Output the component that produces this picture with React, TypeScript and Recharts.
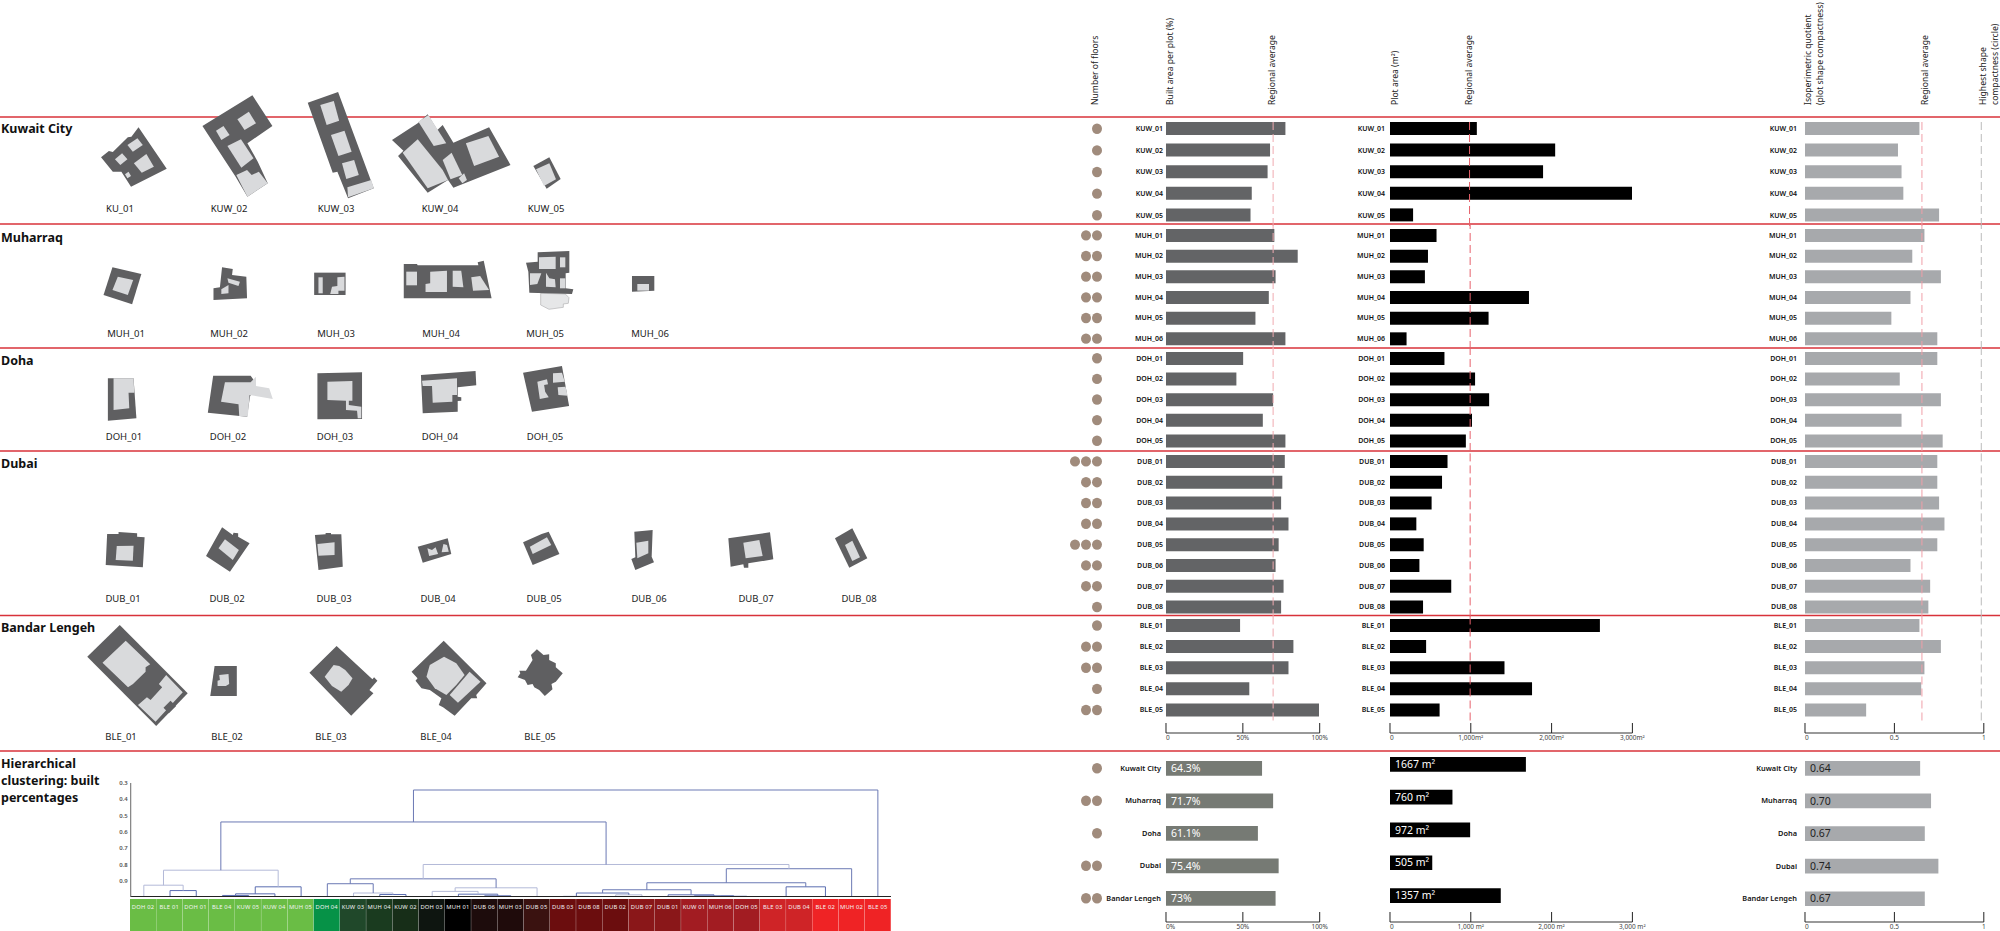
import {
  Bar,
  BarChart,
  Cell,
  LabelList,
  Line,
  LineChart,
  ReferenceLine,
  Scatter,
  ScatterChart,
  XAxis,
  YAxis,
} from "recharts";

const FONT = "'Noto Sans', sans-serif";

// rows per city
const kuwLabels = ["KUW_01", "KUW_02", "KUW_03", "KUW_04", "KUW_05"];
const muhLabels = ["MUH_01", "MUH_02", "MUH_03", "MUH_04", "MUH_05", "MUH_06"];
const dohLabels = ["DOH_01", "DOH_02", "DOH_03", "DOH_04", "DOH_05"];
const dubLabels = ["DUB_01", "DUB_02", "DUB_03", "DUB_04", "DUB_05", "DUB_06", "DUB_07", "DUB_08"];
const bleLabels = ["BLE_01", "BLE_02", "BLE_03", "BLE_04", "BLE_05"];

const kuwFloors = [1, 1, 1, 1, 1];
const muhFloors = [2, 2, 2, 2, 2, 2];
const dohFloors = [1, 1, 1, 1, 1];
const dubFloors = [3, 2, 2, 2, 3, 2, 2, 1];
const bleFloors = [1, 2, 2, 1, 2];

const kuwBuilt = [77.7, 67.7, 66.1, 55.8, 55];
const muhBuilt = [70.5, 85.7, 71.3, 66.9, 58.2, 77.7];
const dohBuilt = [50.2, 45.8, 69.7, 63, 77.7];
const dubBuilt = [77.3, 75.7, 74.9, 79.7, 73.3, 71.3, 76.5, 74.9];
const bleBuilt = [48.2, 82.9, 79.7, 54.2, 100];

const kuwPlot = [1083, 2060, 1909, 3023, 288];
const muhPlot = [576, 470, 432, 1720, 1220, 205];
const dohPlot = [674, 1053, 1227, 1015, 939];
const dubPlot = [712, 644, 515, 326, 417, 364, 758, 409];
const blePlot = [2598, 447, 1417, 1758, 614];

const kuwIso = [0.64, 0.52, 0.54, 0.55, 0.75];
const muhIso = [0.668, 0.6, 0.76, 0.59, 0.483, 0.74];
const dohIso = [0.74, 0.53, 0.76, 0.54, 0.77];
const dubIso = [0.74, 0.74, 0.75, 0.78, 0.74, 0.59, 0.7, 0.69];
const bleIso = [0.64, 0.76, 0.668, 0.65, 0.342];

// regional summary
const cities = ["Kuwait City", "Muharraq", "Doha", "Dubai", "Bandar Lengeh"];
const cityFloors = [1, 2, 1, 2, 2];
const cityBuilt = [62.5, 69.7, 59.8, 73.3, 71.3];
const cityBuiltText = ["64.3%", "71.7%", "61.1%", "75.4%", "73%"];
const cityPlot = [1682, 773, 992, 523, 1371];
const cityPlotText = ["1667 m²", "760 m²", "972 m²", "505 m²", "1357 m²"];
const cityIso = [0.644, 0.705, 0.67, 0.746, 0.67];
const cityIsoText = ["0.64", "0.70", "0.67", "0.74", "0.67"];

// regional averages
const avgBuilt = 69.7;
const avgPlot = 992;
const avgIso = 0.654;
const maxCompact = 0.986;

// dendrogram leaves, left to right
const leaves = [
  "DOH 02", "BLE 01", "DOH 01", "BLE 04", "KUW 05", "KUW 04", "MUH 05", "DOH 04", "KUW 03", "MUH 04",
  "KUW 02", "DOH 03", "MUH 01", "DUB 06", "MUH 03", "DUB 05", "DUB 03", "DUB 08", "DUB 02", "DUB 07",
  "DUB 01", "KUW 01", "MUH 06", "DOH 05", "BLE 03", "DUB 04", "BLE 02", "MUH 02", "BLE 05",
];
const leafColors = [
  "#6abd45", "#6abd45", "#6abd45", "#6abd45", "#6abd45", "#6abd45", "#6abd45", "#069247", "#20482a", "#1a3b1f",
  "#172e18", "#0e1510", "#000000", "#1d0c0c", "#1f0b0b", "#3a1210", "#6b0d0e", "#6b0d0e", "#6b0d0e", "#8a1719",
  "#8a1719", "#a21c22", "#a21c22", "#a21c22", "#cf2427", "#cf2427", "#ef2325", "#ef2325", "#ef2325",
];
// id, left child, right child, height
const merges: [string, string, string, number][] = [
  ["d", "BLE 01", "DOH 01", 0.96],
  ["c", "DOH 02", "d", 0.927],
  ["g", "BLE 04", "KUW 05", 0.99],
  ["f", "g", "KUW 04", 0.98],
  ["e", "f", "MUH 05", 0.937],
  ["b", "c", "e", 0.835],
  ["l", "MUH 04", "KUW 02", 0.984],
  ["k", "KUW 03", "l", 0.975],
  ["j", "DOH 04", "k", 0.918],
  ["p", "DUB 06", "MUH 03", 0.992],
  ["o", "MUH 01", "p", 0.982],
  ["n", "DOH 03", "o", 0.965],
  ["m", "n", "DUB 05", 0.943],
  ["i", "j", "m", 0.888],
  ["t1", "DUB 03", "DUB 08", 0.995],
  ["t2", "DUB 02", "DUB 07", 0.986],
  ["t", "t1", "t2", 0.975],
  ["v1", "MUH 06", "DOH 05", 0.995],
  ["v", "KUW 01", "v1", 0.992],
  ["u", "DUB 01", "v", 0.986],
  ["s", "t", "u", 0.955],
  ["w1", "BLE 03", "DUB 04", 0.997],
  ["w", "w1", "BLE 02", 0.937],
  ["r", "s", "w", 0.912],
  ["q", "r", "MUH 02", 0.826],
  ["h", "i", "q", 0.8],
  ["a", "b", "h", 0.539],
  ["root", "a", "BLE 05", 0.343],
];
const dendroTicks = [0.3, 0.4, 0.5, 0.6, 0.7, 0.8, 0.9];

const builtTicks = [0, 50, 100];
const builtTickText = ["0", "50%", "100%"];
const builtTickTextCity = ["0%", "50%", "100%"];
const plotTicks = [0, 1000, 2000, 3000];
const plotTickText = ["0", "1,000m²", "2,000m²", "3,000m²"];
const plotTickTextCity = ["0", "1,000 m²", "2,000 m²", "3,000 m²"];
const isoTicks = [0, 0.5, 1];
const isoTickText = ["0", "0.5", "1"];

// site plan illustrations, traced per crop of the page
const planCrops = [
  {
    ox: 0, oy: 80, sx: 0.357, sy: 0.3333,
    plans: [
      { outer: "283,232 305,213 316,216 358,172 368,170 388,142 467,266 367,320 340,275 316,275", light: ["357,195 385,175 400,195 372,215", "322,238 342,220 357,238 337,255", "375,250 410,222 431,260 397,278", "350,283 360,275 367,288 357,295"] },
      { outer: "707,46 763,138 693,190 722,245 750,310 693,350 660,290 567,138", light: ["665,118 697,95 717,130 685,150", "605,152 626,138 643,165 620,180", "637,198 675,178 710,235 676,263", "662,285 692,270 705,285 725,275 750,310 693,350"] },
      { outer: "862,68 947,36 1047,325 975,355 945,275 932,278", light: ["897,75 935,63 950,122 915,135", "927,165 965,152 985,215 948,228", "958,250 992,240 1005,285 970,297", "973,322 1040,300 1047,325 975,352"] },
      { outer: "1098,180 1170,130 1198,103 1225,150 1240,135 1270,188 1370,142 1430,255 1270,323 1255,300 1198,338 1115,228 1130,212", light: ["1128,218 1170,178 1240,270 1255,300 1198,325", "1172,125 1200,105 1250,190 1215,198", "1305,190 1368,168 1398,230 1328,258", "1240,240 1265,218 1295,285 1262,298", "1285,295 1300,280 1308,300 1295,310"] },
      { outer: "315,562 396,582 370,673 290,645", light: ["330,590 373,600 358,645 315,630"] },
      { outer: "622,562 652,567 650,585 690,590 692,655 598,660 598,625 616,622", light: ["637,595 672,605 668,618 640,608", "620,628 640,615 640,640 620,642"] },
      { outer: "880,578 968,578 968,645 880,645", light: ["892,592 904,592 904,640 892,640", "945,592 965,590 965,632 948,632 948,642 925,642 930,620 945,618"] },
      { outer: "1131,552 1168,552 1170,556 1340,556 1338,547 1355,542 1377,655 1131,655", light: ["1138,575 1168,575 1168,616 1138,616", "1205,575 1252,572 1252,636 1192,636 1192,612 1205,610", "1268,572 1292,572 1298,622 1268,620", "1320,592 1345,588 1370,630 1325,632"] },
    ],
  },
  {
    ox: 500, oy: 130, sx: 0.3333, sy: 0.3333,
    plans: [
      { outer: "100,108 148,82 182,147 140,176", light: ["108,118 148,100 168,148 132,168"] },
      { outer: "113,367 208,363 208,428 197,430 197,475 220,478 216,492 88,488 85,425 78,398 113,395", light: ["117,382 167,380 167,417 117,417", "180,382 196,382 196,412 180,412", "90,430 124,430 112,462 90,465", "138,428 148,445 165,448 167,472 138,470", "180,445 196,445 196,475 180,475"], pale: ["122,490 196,492 207,503 205,520 190,522 190,532 147,538 122,525"] },
      { outer: "396,438 463,438 463,482 396,485", light: ["412,462 447,462 447,482 412,482"] },
    ],
  },
  {
    ox: 90, oy: 350, sx: 0.357, sy: 0.3333,
    plans: [
      { outer: "50,85 122,85 130,205 50,212", light: ["66,85 122,85 124,128 108,128 110,175 66,180"] },
      { outer: "345,77 450,77 465,100 448,140 440,200 330,188", light: ["378,97 450,97 465,80 465,108 502,115 512,147 447,135 442,200 418,198 416,163 367,155"] },
      { outer: "637,70 762,67 762,207 637,208", light: ["665,95 735,93 735,152 725,152 725,165 760,170 760,205 750,205 748,182 717,180 717,152 665,150"] },
      { outer: "927,75 1080,63 1082,106 1030,112 1030,140 1040,142 1040,152 1030,153 1030,185 932,190", light: ["930,92 1028,85 1028,135 1015,135 1015,155 960,158 958,108 932,108"] },
      { outer: "1213,68 1322,48 1342,168 1238,185", light: ["1253,95 1280,88 1283,103 1272,105 1275,125 1285,142 1260,147", "1297,70 1322,68 1330,95 1297,98", "1310,112 1332,110 1338,137 1312,135"] },
      { outer: "48,552 80,552 80,546 132,550 132,560 153,562 148,652 44,645", light: ["75,588 122,587 120,632 72,630"] },
      { outer: "370,532 400,555 402,548 415,550 415,560 447,580 392,665 325,618", light: ["360,595 378,568 417,600 400,630"] },
      { outer: "630,555 660,553 660,549 675,549 675,553 704,553 708,650 640,660", light: ["637,582 685,577 685,615 640,617"] },
      { outer: "918,590 1002,565 1012,612 932,638", light: ["945,595 958,600 968,592 975,612 950,618", "990,582 1000,585 1005,605 985,607"] },
      { outer: "1213,577 1265,552 1285,545 1315,612 1240,645", light: ["1232,590 1280,562 1292,585 1240,612"] },
    ],
  },
  {
    ox: 600, oy: 500, sx: 0.3333, sy: 0.3333,
    plans: [
      { outer: "103,95 158,90 155,170 162,187 106,210 94,177 106,172", light: ["109,128 145,122 145,160 112,175"] },
      { outer: "385,115 510,97 520,178 445,190 445,203 432,203 430,193 392,200", light: ["430,128 478,120 488,168 437,175"] },
      { outer: "705,115 757,85 802,175 748,203", light: ["735,135 757,122 780,172 757,183"] },
    ],
  },
  {
    ox: 70, oy: 610, sx: 0.3316, sy: 0.3333,
    plans: [
      { outer: "150,45 355,250 260,348 52,140", light: ["168,92 242,163 228,172 228,185 190,222 175,232 98,158", "290,195 340,247 258,335 205,285 232,262 243,270 278,232 268,222"], dark: ["282,293 303,272 320,288 298,310"] },
      { outer: "436,168 503,168 503,258 423,258", light: ["450,195 478,192 480,222 470,228 445,228 445,212 452,210"] },
      { outer: "804,108 912,208 917,202 927,212 903,240 915,250 848,317 722,188", light: ["795,165 812,168 830,180 852,205 840,225 818,245 790,228 768,200"] },
      { outer: "1127,92 1256,220 1225,255 1228,265 1210,265 1160,317 1125,292 1112,285 1120,265 1085,240 1060,235 1042,212 1048,205 1030,185", light: ["1128,140 1165,160 1190,195 1165,225 1135,255 1100,235 1075,200 1085,165", "1205,185 1238,215 1170,278 1145,255"] },
      { outer: "1408,118 1428,135 1445,133 1445,150 1465,160 1465,172 1486,190 1465,215 1452,222 1455,238 1432,258 1415,240 1400,232 1395,222 1380,225 1372,210 1350,202 1358,190 1355,182 1375,182 1395,150 1390,135", light: [] },
    ],
  },
];

const planLabels: [string, number, number][] = [
  ["KU_01", 120, 209], ["KUW_02", 229, 209], ["KUW_03", 336, 209], ["KUW_04", 440, 209], ["KUW_05", 546, 209],
  ["MUH_01", 126, 334], ["MUH_02", 229, 334], ["MUH_03", 336, 334], ["MUH_04", 441, 334], ["MUH_05", 545, 334], ["MUH_06", 650, 334],
  ["DOH_01", 124, 437], ["DOH_02", 228, 437], ["DOH_03", 335, 437], ["DOH_04", 440, 437], ["DOH_05", 545, 437],
  ["DUB_01", 123, 599], ["DUB_02", 227, 599], ["DUB_03", 334, 599], ["DUB_04", 438, 599], ["DUB_05", 544, 599], ["DUB_06", 649, 599], ["DUB_07", 756, 599], ["DUB_08", 859, 599],
  ["BLE_01", 121, 737], ["BLE_02", 227, 737], ["BLE_03", 331, 737], ["BLE_04", 436, 737], ["BLE_05", 540, 737],
];

const titles: [string, number][] = [
  ["Kuwait City", 129],
  ["Muharraq", 238],
  ["Doha", 361],
  ["Dubai", 464],
  ["Bandar Lengeh", 628],
  ["Hierarchical", 764],
  ["clustering: built", 781],
  ["percentages", 798],
];

const headers: [string, number][] = [
  ["Number of floors", 1095],
  ["Built area per plot (%)", 1170],
  ["Regional average", 1271.5],
  ["Plot area (m²)", 1395],
  ["Regional average", 1468.5],
  ["Isoperimetric quotient", 1808],
  ["(plot shape compactness)", 1820],
  ["Regional average", 1924.5],
  ["Highest shape", 1983],
  ["compactness (circle)", 1995],
];

const redLines = [117, 224, 348, 451, 615.5, 751];

// vertical layout of the row groups
const groups = [
  { labels: kuwLabels, floors: kuwFloors, built: kuwBuilt, plot: kuwPlot, iso: kuwIso, top: 117.5, height: 108 },
  { labels: muhLabels, floors: muhFloors, built: muhBuilt, plot: muhPlot, iso: muhIso, top: 225.4, height: 124 },
  { labels: dohLabels, floors: dohFloors, built: dohBuilt, plot: dohPlot, iso: dohIso, top: 348.4, height: 103 },
  { labels: dubLabels, floors: dubFloors, built: dubBuilt, plot: dubPlot, iso: dubIso, top: 450.6, height: 166.4 },
  { labels: bleLabels, floors: bleFloors, built: bleBuilt, plot: blePlot, iso: bleIso, top: 615.2, height: 105.5 },
];

const BUILT = { x: 1165.5, w: 153.7, max: 100 };
const PLOT = { x: 1389.6, w: 242.4, max: 3000 };
const ISO = { x: 1804.6, w: 178.8, max: 1 };

const at = (left: number, top: number) =>
  ({ position: "absolute", left, top } as const);

type RefLine = { x: number; stroke: string };

function RowBars({ labels, values, texts, col, top, height, color, refs, barSize, axisWidth, tickGap, tickSize, textFill }: any) {
  const data = labels.map((name: string, i: number) => ({
    name,
    value: values[i],
    text: texts ? texts[i] : "",
  }));
  return (
    <div style={at(col.x - axisWidth, top)}>
      <BarChart
        width={col.w + axisWidth}
        height={height}
        data={data}
        layout="vertical"
        margin={{ top: 0, right: 0, bottom: 0, left: 0 }}
      >
        <XAxis type="number" domain={[0, col.max]} hide />
        <YAxis
          type="category"
          dataKey="name"
          width={axisWidth}
          interval={0}
          tickLine={false}
          axisLine={false}
          tickSize={0}
          tickMargin={tickGap}
          hide={axisWidth === 0}
          tick={(p: any) => (
            <text x={p.x} y={p.y} dy="0.35em" textAnchor="end" fontSize={tickSize} fontWeight={600} fill="#111" fontFamily={FONT}>
              {p.payload.value}
            </text>
          )}
        />
        <Bar dataKey="value" fill={color} barSize={barSize} isAnimationActive={false}>
          {texts && (
            <LabelList
              dataKey="text"
              content={(p: any) => (
                <text x={p.x + 5} y={p.y + p.height / 2} dy="0.35em" fontSize={10.5} fill={textFill} fontFamily={FONT}>
                  {p.value}
                </text>
              )}
            />
          )}
        </Bar>
        {refs.map((r: RefLine) => (
          <ReferenceLine key={r.x} x={r.x} stroke={r.stroke} strokeDasharray="8 4" />
        ))}
      </BarChart>
    </div>
  );
}

function FloorDots({ floors, top, height }: any) {
  const points: { x: number; y: number }[] = [];
  floors.forEach((count: number, row: number) => {
    for (let f = 1; f <= count; f++) points.push({ x: f, y: row });
  });
  return (
    <div style={at(1063.5, top)}>
      <ScatterChart width={44} height={height} margin={{ top: 0, right: 0, bottom: 0, left: 0 }}>
        <XAxis type="number" dataKey="x" domain={[0, 4]} reversed hide />
        <YAxis type="number" dataKey="y" domain={[-0.5, floors.length - 0.5]} reversed hide />
        <Scatter
          data={points}
          isAnimationActive={false}
          shape={(p: any) => <ellipse cx={p.cx} cy={p.cy} rx={5} ry={5.2} fill="#a08b7c" />}
        />
      </ScatterChart>
    </div>
  );
}

function AxisOnly({ col, ticks, texts, lineY }: any) {
  const padL = 14;
  const padR = 22;
  const plotH = 12;
  return (
    <div style={at(col.x - padL, lineY - plotH)}>
      <BarChart
        width={col.w + padL + padR}
        height={plotH + 20}
        data={[{ name: "", value: 0 }]}
        layout="vertical"
        margin={{ top: 0, right: padR, bottom: 0, left: padL }}
      >
        <XAxis
          type="number"
          domain={[0, col.max]}
          ticks={ticks}
          interval={0}
          height={20}
          tickLine={false}
          axisLine={{ stroke: "#333", strokeWidth: 1 }}
          tick={(p: any) => (
            <g>
              <line x1={p.x} x2={p.x} y1={plotH} y2={plotH - 10} stroke="#222" />
              <text
                x={p.x}
                y={plotH + 7}
                textAnchor={p.index === 0 ? "start" : "middle"}
                fontSize={6.5}
                fill="#444"
                fontFamily={FONT}
              >
                {texts[p.index]}
              </text>
            </g>
          )}
        />
        <YAxis type="category" dataKey="name" hide />
        <Bar dataKey="value" isAnimationActive={false} />
      </BarChart>
    </div>
  );
}

// leaf x sits mid-band, a node sits between its two children
function dendroLinks() {
  const pos: Record<string, { x: number; y: number }> = {};
  leaves.forEach((name, i) => (pos[name] = { x: i + 0.5, y: 1 }));
  return merges.map(([id, l, r, h]) => {
    const a = pos[l];
    const b = pos[r];
    pos[id] = { x: (a.x + b.x) / 2, y: h };
    return {
      id,
      points: [
        { x: a.x, y: a.y },
        { x: a.x, y: h },
        { x: b.x, y: h },
        { x: b.x, y: b.y },
      ],
    };
  });
}

const lightLinks = ["c", "b", "h", "k", "m", "n", "t1", "t2"];
const darkLinks = ["a", "root", "i", "j", "q", "r", "s"];

function Dendrogram() {
  const links = dendroLinks();
  return (
    <div style={at(110, 777.3)}>
      <LineChart width={781} height={120.1} margin={{ top: 6, right: 0, bottom: 0, left: 0 }}>
        <XAxis type="number" dataKey="x" domain={[0, 29]} hide />
        <YAxis
          type="number"
          dataKey="y"
          domain={[0.3, 1]}
          ticks={dendroTicks}
          reversed
          width={20.7}
          interval={0}
          tickLine={false}
          tickSize={0}
          tickMargin={3}
          axisLine={{ stroke: "#666" }}
          tick={{ fontSize: 6, fontWeight: 600, fill: "#555", fontFamily: FONT }}
        />
        {links.map((link) => (
          <Line
            key={link.id}
            data={link.points}
            dataKey="y"
            type="linear"
            dot={false}
            legendType="none"
            stroke={lightLinks.includes(link.id) ? "#b4bad8" : darkLinks.includes(link.id) ? "#6a78b4" : "#5a6cb0"}
            strokeWidth={1}
            isAnimationActive={false}
          />
        ))}
        <ReferenceLine y={1} stroke="#222" strokeWidth={2} />
      </LineChart>
    </div>
  );
}

function LeafStrip() {
  const data = leaves.map((name) => ({ name, value: 1 }));
  return (
    <div style={at(130, 898.5)}>
      <BarChart
        width={761}
        height={32.5}
        data={data}
        barCategoryGap={0}
        margin={{ top: 0, right: 0, bottom: 0, left: 0 }}
      >
        <XAxis dataKey="name" hide />
        <YAxis domain={[0, 1]} hide />
        <Bar dataKey="value" isAnimationActive={false}>
          {leaves.map((name, i) => (
            <Cell key={name} fill={leafColors[i]} />
          ))}
          <LabelList
            dataKey="name"
            content={(p: any) => (
              <text x={p.x + p.width / 2} y={p.y + 10} textAnchor="middle" fontSize={5.8} letterSpacing={0.2} fill="#f3f3f3" fontFamily={FONT}>
                {p.value}
              </text>
            )}
          />
        </Bar>
      </BarChart>
    </div>
  );
}

export default function App() {
  return (
    <div style={{ position: "absolute", left: 0, top: 0, width: 2000, height: 931, overflow: "hidden", background: "#fff", fontFamily: FONT }}>
      <svg width={2000} height={931} style={at(0, 0)}>
        {redLines.map((y) => (
          <line key={y} x1={0} x2={2000} y1={y} y2={y} stroke="#d8323a" strokeWidth={1.4} />
        ))}
        {planCrops.map((crop, c) => (
          <g key={c} transform={`translate(${crop.ox},${crop.oy}) scale(${crop.sx},${crop.sy})`}>
            {crop.plans.map((plan: any, i: number) => (
              <g key={i}>
                {plan.pale?.map((pts: string) => (
                  <polygon key={pts} points={pts} fill="#e6e7e8" stroke="#9a9a9c" strokeWidth={1.5} />
                ))}
                <polygon points={plan.outer} fill="#5f5f61" />
                {plan.light.map((pts: string) => (
                  <polygon key={pts} points={pts} fill="#d9dadc" />
                ))}
                {plan.dark?.map((pts: string) => (
                  <polygon key={pts} points={pts} fill="#5f5f61" />
                ))}
              </g>
            ))}
          </g>
        ))}
        {planLabels.map(([text, x, y]) => (
          <text key={text} x={x} y={y} dy={3.4} textAnchor="middle" fontSize={9.5} fill="#222">
            {text}
          </text>
        ))}
        {titles.map(([text, y]) => (
          <text key={text} x={1} y={y} dy={4.4} fontSize={12.5} fontWeight={700} fill="#111">
            {text}
          </text>
        ))}
        {headers.map(([text, x]) => (
          <text key={text + x} transform={`translate(${x},105) rotate(-90)`} dy={3} fontSize={8.6} fill="#222">
            {text}
          </text>
        ))}
      </svg>

      {groups.map((g) => (
        <div key={g.labels[0]}>
          <FloorDots floors={g.floors} top={g.top} height={g.height} />
          <RowBars labels={g.labels} values={g.built} col={BUILT} top={g.top} height={g.height} color="#636466" barSize={13} axisWidth={50} tickGap={3} tickSize={7} refs={[{ x: avgBuilt, stroke: "#f0aab0" }]} />
          <RowBars labels={g.labels} values={g.plot} col={PLOT} top={g.top} height={g.height} color="#000" barSize={13} axisWidth={50} tickGap={5} tickSize={7} refs={[{ x: avgPlot, stroke: "#e6606a" }]} />
          <RowBars labels={g.labels} values={g.iso} col={ISO} top={g.top} height={g.height} color="#a7a9ac" barSize={13} axisWidth={50} tickGap={8} tickSize={7} refs={[{ x: avgIso, stroke: "#f0a0a8" }, { x: maxCompact, stroke: "#bbbbbb" }]} />
        </div>
      ))}

      <AxisOnly col={BUILT} ticks={builtTicks} texts={builtTickText} lineY={733.3} />
      <AxisOnly col={PLOT} ticks={plotTicks} texts={plotTickText} lineY={733.3} />
      <AxisOnly col={ISO} ticks={isoTicks} texts={isoTickText} lineY={733.3} />

      <FloorDots floors={cityFloors} top={751.7} height={162.5} />
      <RowBars labels={cities} values={cityBuilt} texts={cityBuiltText} textFill="#fff" col={BUILT} top={751.7} height={162.5} color="#767a74" barSize={14.7} axisWidth={80} tickGap={5} tickSize={7.4} refs={[]} />
      <RowBars labels={cities} values={cityPlot} texts={cityPlotText} textFill="#fff" col={PLOT} top={747.7} height={164} color="#000" barSize={14.7} axisWidth={0} tickGap={0} tickSize={8} refs={[]} />
      <RowBars labels={cities} values={cityIso} texts={cityIsoText} textFill="#222" col={ISO} top={751.7} height={163} color="#a7a9ac" barSize={14.7} axisWidth={80} tickGap={8} tickSize={7.4} refs={[]} />

      <AxisOnly col={BUILT} ticks={builtTicks} texts={builtTickTextCity} lineY={921.7} />
      <AxisOnly col={PLOT} ticks={plotTicks} texts={plotTickTextCity} lineY={921.7} />
      <AxisOnly col={ISO} ticks={isoTicks} texts={isoTickText} lineY={921.7} />

      <Dendrogram />
      <LeafStrip />
    </div>
  );
}
